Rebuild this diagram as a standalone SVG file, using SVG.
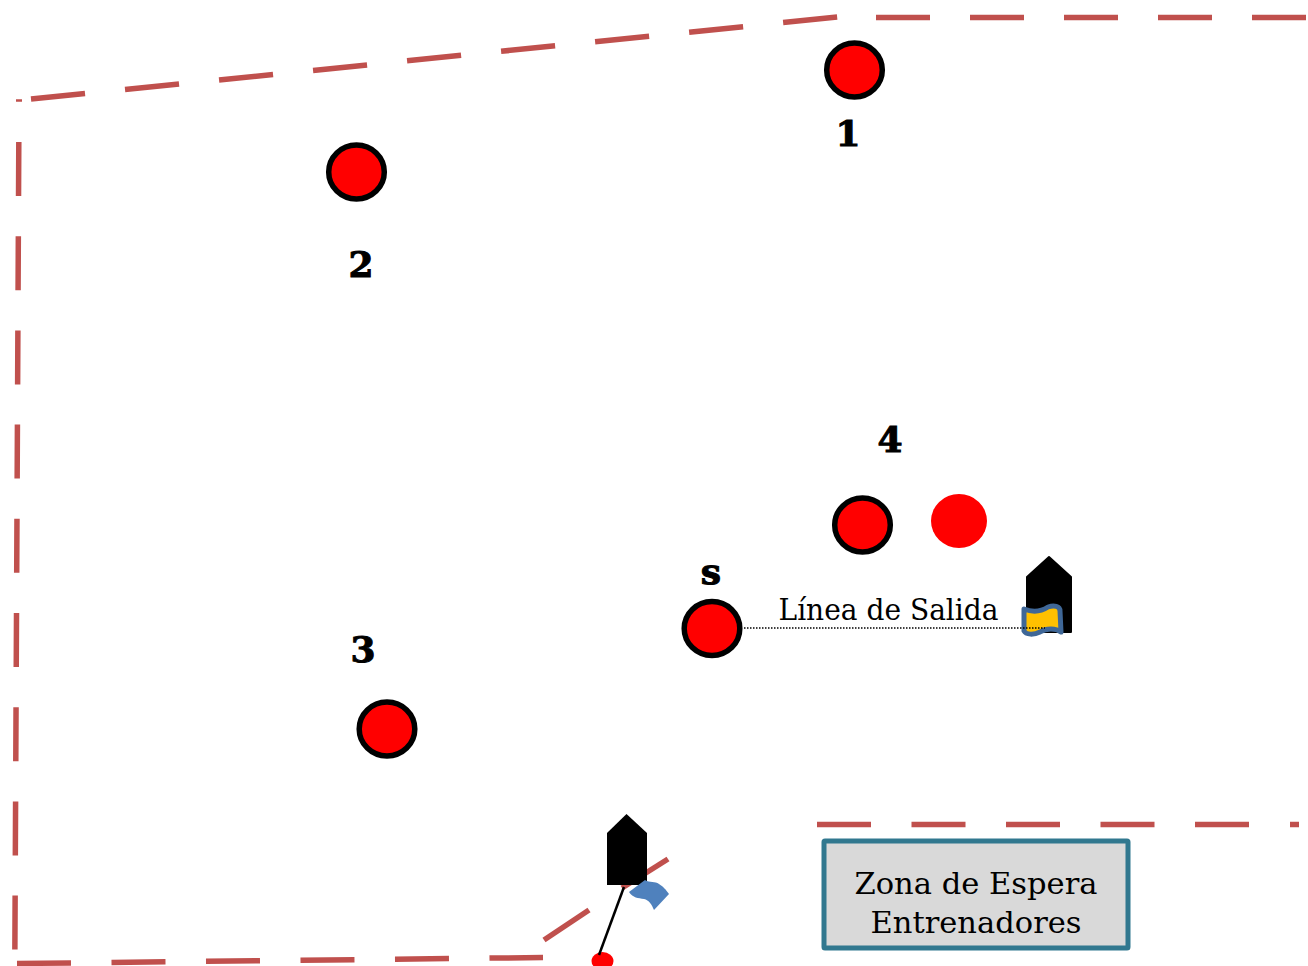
<svg xmlns="http://www.w3.org/2000/svg" width="1308" height="966" viewBox="0 0 1308 966">
<style>
.b{fill:none;stroke:#c0504d;stroke-width:5.5}
.c{fill:#ff0000;stroke:#000;stroke-width:5.5}
.n{font-family:"DejaVu Serif","Liberation Serif",serif;font-weight:bold;font-size:36px;text-anchor:middle;fill:#000;stroke:#000;stroke-width:1}
.t{font-family:"DejaVu Serif","Liberation Serif",serif;font-size:29px;text-anchor:middle;fill:#000}
.h{fill:#000;stroke:#000;stroke-width:2;stroke-linejoin:round}
</style>
<rect width="1308" height="966" fill="#fff"/>
<g id="boundaries">
<path class="b" style="stroke-width:2.5" d="M16 100.500H22"/>
<path class="b" stroke-dasharray="54.300 40.200" d="M31 99.100L838 17"/>
<path class="b" stroke-dasharray="54 40" d="M876 17.500H1308"/>
<path class="b" stroke-dasharray="54 40.200" d="M18.800 142L14.800 964"/>
<path class="b" stroke-dasharray="54 40.500" d="M17 963.500L543 957.500"/>
<path class="b" d="M544 940L589 910"/>
<path class="b" d="M622 888L668 859"/>
<path class="b" stroke-dasharray="54 40.500" d="M817 824.500H1250"/>
<path class="b" d="M1290 824.500H1299"/>
</g>
<g id="cone-1"><ellipse class="c" cx="854.500" cy="70" rx="27.800" ry="27"/></g>
<g id="cone-2"><ellipse class="c" cx="356.500" cy="172" rx="27.800" ry="27"/></g>
<g id="cone-3"><ellipse class="c" cx="387" cy="729" rx="27.800" ry="27"/></g>
<g id="cone-4"><ellipse class="c" cx="862.500" cy="525" rx="27.800" ry="27"/></g>
<g id="cone-s"><ellipse class="c" cx="712" cy="628.500" rx="27.800" ry="27"/></g>
<g id="cone-plain"><ellipse cx="959" cy="521" rx="28" ry="27" fill="#ff0000"/></g>
<g id="ball"><ellipse cx="602.500" cy="961" rx="11" ry="9" fill="#ff0000"/></g>
<g id="labels">
<text class="n" x="848" y="146">1</text>
<text class="n" x="361" y="277">2</text>
<text class="n" x="363" y="662">3</text>
<text class="n" x="890" y="452">4</text>
<text class="n" x="711" y="584">s</text>
</g>
<g id="linea-label"><text class="t" x="888.500" y="620" textLength="220" lengthAdjust="spacingAndGlyphs">Línea de Salida</text></g>
<g id="person-right">
<polygon class="h" points="1049,557 1071,577 1071,632 1027,632 1027,577"/>
<path d="M1024 609C1034 613 1042 611 1048 607C1054 605 1060 606 1060 611L1061 632C1056 628 1046 628 1040 632C1034 635 1026 635 1024 631Z" fill="#ffc000" stroke="#3f6797" stroke-width="5" stroke-linejoin="round"/>
</g>
<g id="person-bottom">
<polygon fill="#000" points="626.500,814 647,833 647,885 607,885 607,833"/>
<path d="M629 892L645 880C650 883 655 881 659 884C664 887 666 890 669 894L654 910C652 905 649 900 644 899C638 898 633 898 629 892Z" fill="#4f81bd"/>
</g>
<g id="connectors">
<path d="M744 628H1045" fill="none" stroke="#000" stroke-width="1.500" stroke-dasharray="1.500 1.500"/>
<path d="M624 887L599 955" fill="none" stroke="#000" stroke-width="2.500"/>
</g>
<g id="zona-espera">
<rect x="824" y="841" width="304" height="107" rx="1" fill="#d9d9d9" stroke="#31788f" stroke-width="5"/>
<text class="t" x="976" y="894" textLength="243" lengthAdjust="spacingAndGlyphs">Zona de Espera</text>
<text class="t" x="976" y="933" textLength="211" lengthAdjust="spacingAndGlyphs">Entrenadores</text>
</g>
</svg>
